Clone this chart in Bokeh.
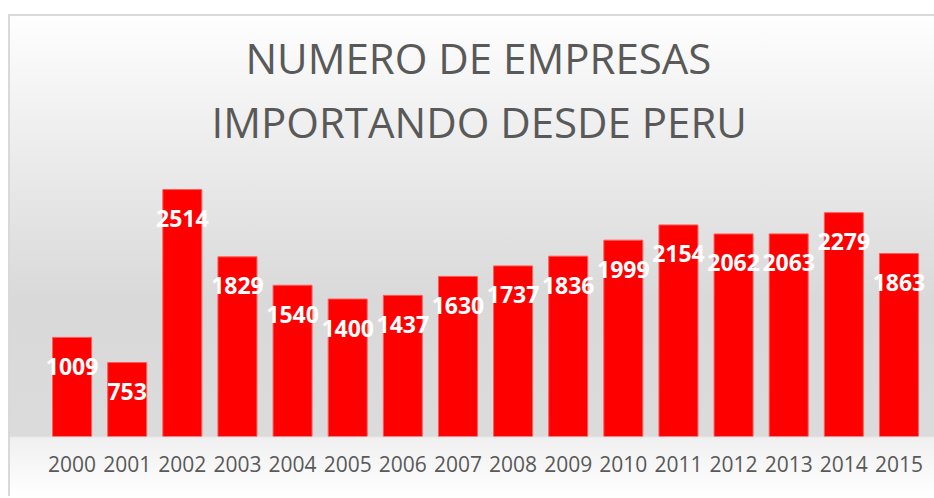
from bokeh.plotting import figure
from bokeh.models import ColumnDataSource, FactorRange, Range1d, Title
from bokeh.core.properties import value
from bokeh.embed import file_html
from bokeh.resources import INLINE

years = ["2000", "2001", "2002", "2003", "2004", "2005", "2006", "2007",
         "2008", "2009", "2010", "2011", "2012", "2013", "2014", "2015"]
empresas = [1009, 753, 2514, 1829, 1540, 1400, 1437, 1630,
            1737, 1836, 1999, 2154, 2062, 2063, 2279, 1863]
title_lines = ["NUMERO DE EMPRESAS", "IMPORTANDO DESDE PERU"]

src = ColumnDataSource(dict(year=years, n=empresas, label=[str(v) for v in empresas]))

p = figure(
    width=934, height=496,
    x_range=FactorRange(*years, range_padding=0),
    y_range=Range1d(0, 2800),
    output_backend="svg", toolbar_location=None,
    min_border_left=44, min_border_right=8,
    min_border_top=161, min_border_bottom=60,
)

p.styles = {
    "background": (
        "linear-gradient(#ffffff, #ffffff) 0px 0px / 8px 100% no-repeat, "
        "linear-gradient(#d9d9d9, #d9d9d9) 8px 14px / 100% 2px no-repeat, "
        "linear-gradient(#d9d9d9, #d9d9d9) 8px 14px / 2px 100% no-repeat, "
        "linear-gradient(to bottom, #ffffff 0px, #ffffff 14px, #fefefe 16px, #f0f0f0 120px, "
        "#d9d9d9 300px, #dbdbdb 436px, #f0f0f0 438px, #ffffff 496px)"
    ),
}
p.border_fill_alpha = 0
p.background_fill_alpha = 0
p.outline_line_color = None
p.grid.visible = False
p.yaxis.visible = False

# second line closest to the frame, first line above it
for line, standoff, offset in ((title_lines[1], 23, 167), (title_lines[0], -12, 201)):
    p.add_layout(Title(text=line, align="left", offset=offset, text_font="Open Sans",
                       text_font_size="42px", text_font_style="normal",
                       text_color="#595959", standoff=standoff), "above")

p.vbar(x="year", top="n", width=0.707, source=src,
       fill_color="#ff0000", line_color="#ff5a5a", line_width=1)

p.text(x="year", y="n", text="label", source=src,
       text_font=value("Open Sans"), text_font_style="bold",
       text_font_size="23px", text_color="white",
       text_align="center", text_baseline="middle", y_offset=29)

ax = p.xaxis[0]
ax.axis_line_color = None
ax.major_tick_line_color = None
ax.minor_tick_line_color = None
ax.major_label_text_font = "Open Sans"
ax.major_label_text_font_size = "21px"
ax.major_label_text_color = "#595959"
ax.major_label_standoff = 13

open("out.html", "w").write(file_html(p, INLINE))
